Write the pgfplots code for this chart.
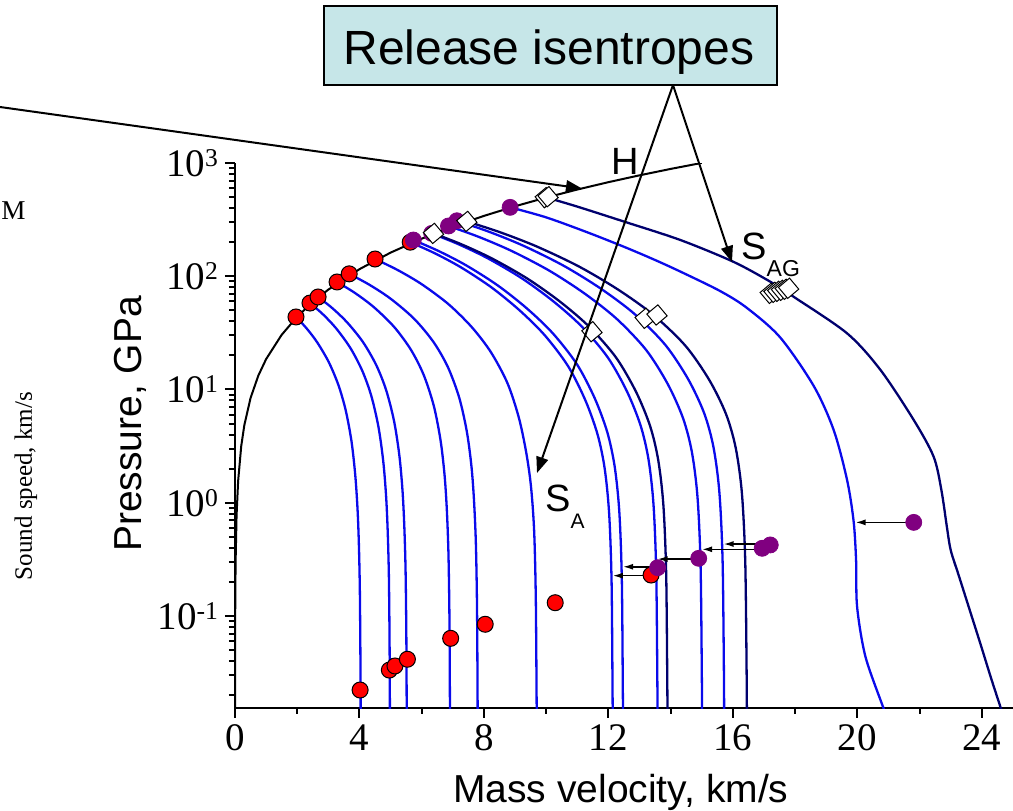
\documentclass[border=0pt]{standalone}
\usepackage{pgfplots}
\pgfplotsset{compat=1.18}
\usepackage{fontspec}
\setmainfont{Liberation Serif}
\newfontfamily\arial{Liberation Sans}
\usetikzlibrary{arrows.meta}

\definecolor{isoblue}{RGB}{10,10,235}
\definecolor{isonavy}{RGB}{0,0,110}
\definecolor{dotpurple}{RGB}{128,0,128}
\definecolor{boxcyan}{RGB}{198,230,232}

\newcommand\tsup[1]{\raisebox{5pt}{\fontsize{12.8}{13}\selectfont #1}}

\begin{document}
\begin{tikzpicture}
\useasboundingbox (-117.5pt,-51pt) rectangle (389pt,354pt);
\clip (-117.5pt,-51pt) rectangle (389pt,354pt);
\begin{axis}[
  at={(0pt,0pt)}, anchor=south west,
  scale only axis, width=389pt, height=272.5pt,
  xmin=0, xmax=25, ymode=log, ymin=0.0154, ymax=1000,
  axis lines=left, axis line style={-, line width=1.3pt},
  tick align=outside, major tick length=5pt, minor tick length=3pt,
  every tick/.style={black, line width=1pt},
  xtick={0,4,...,24}, minor x tick num=1,
  ytick={0.1,1,10,100,1000},
  yticklabels={10\tsup{-1},10\tsup{0},10\tsup{1},10\tsup{2},10\tsup{3}},
  minor ytick={0.02,0.03,0.04,0.05,0.06,0.07,0.08,0.09,0.2,0.3,0.4,0.5,0.6,0.7,0.8,0.9,2,3,4,5,6,7,8,9,20,30,40,50,60,70,80,90,200,300,400,500,600,700,800,900},
  ticklabel style={font=\fontsize{19.5}{20}\selectfont},
  /pgf/number format/assume math mode=true,
  xlabel={Mass velocity, km/s},
  ylabel={Pressure, GPa},
  label style={font=\arial\fontsize{19.5}{20}\selectfont},
  xlabel style={at={(axis description cs:0.496,-0.1725)}, anchor=base},
  ylabel style={at={(axis description cs:-0.1208,0.521)}, anchor=base},
]
% release isentropes from the red points (Hugoniot states)
\addplot[isoblue, line width=1.15pt, smooth] coordinates {(1.96,43.7)(2.289,34.96)(2.636,26.22)(3.012,17.48)(3.324,10.93)(3.557,6.555)(3.743,3.496)(3.865,1.748)(3.938,0.874)(3.980,0.437)(4.011,0.1748)(4.030,0.0437)(4.04,0.01)};
\addplot[isoblue, line width=1.15pt, smooth] coordinates {(2.41,58)(2.816,46.4)(3.245,34.8)(3.710,23.2)(4.096,14.5)(4.384,8.7)(4.612,4.64)(4.764,2.32)(4.854,1.16)(4.905,0.58)(4.944,0.232)(4.967,0.058)(4.98,0.01)};
\addplot[isoblue, line width=1.15pt, smooth] coordinates {(2.67,65.6)(3.120,52.48)(3.596,39.36)(4.112,26.24)(4.540,16.4)(4.859,9.84)(5.112,5.248)(5.281,2.624)(5.380,1.312)(5.437,0.656)(5.480,0.2624)(5.506,0.0656)(5.52,0.01)};
\addplot[isoblue, line width=1.15pt, smooth] coordinates {(3.28,89)(3.854,71.2)(4.460,53.4)(5.117,35.6)(5.661,22.25)(6.068,13.35)(6.391,7.12)(6.605,3.56)(6.732,1.78)(6.805,0.89)(6.859,0.356)(6.892,0.089)(6.91,0.01)};
\addplot[isoblue, line width=1.15pt, smooth] coordinates {(3.67,105)(4.323,84)(5.012,63)(5.760,42)(6.379,26.25)(6.842,15.75)(7.209,8.4)(7.453,4.2)(7.598,2.1)(7.680,1.05)(7.742,0.42)(7.779,0.105)(7.80,0.01)};
\addplot[isoblue, line width=1.15pt, smooth] coordinates {(4.50,142)(5.223,113.6)(5.995,85.2)(6.856,56.8)(7.610,35.5)(8.226,21.3)(8.756,11.36)(9.118,5.68)(9.352,2.84)(9.508,1.42)(9.612,0.568)(9.666,0.142)(9.695,0.0142)(9.70,0.01)};
\addplot[isoblue, line width=1.15pt, smooth] coordinates {(5.63,200)(6.411,160)(7.258,120)(8.234,80)(9.145,50)(9.959,30)(10.708,16)(11.261,8)(11.652,4)(11.880,2)(12.023,0.8)(12.101,0.2)(12.133,0.02)(12.14,0.01)};
% release isentropes from the purple points
\addplot[isoblue, line width=1.15pt, smooth] coordinates {(5.73,209)(6.539,167.2)(7.415,125.4)(8.426,83.6)(9.370,52.25)(10.212,31.35)(10.987,16.72)(11.560,8.36)(11.965,4.18)(12.200,2.09)(12.349,0.836)(12.430,0.209)(12.463,0.0209)(12.47,0.01)};
\addplot[isoblue, line width=1.15pt, smooth] coordinates {(6.32,239)(7.191,191.2)(8.135,143.4)(9.224,95.6)(10.240,59.75)(11.148,35.85)(11.983,19.12)(12.600,9.56)(13.036,4.78)(13.290,2.39)(13.449,0.956)(13.536,0.239)(13.573,0.0239)(13.58,0.01)};
\addplot[isonavy, line width=1.15pt, smooth] coordinates {(6.38,239)(7.282,191.2)(8.26,143.4)(9.388,95.6)(10.441,59.75)(11.381,35.85)(12.246,19.12)(12.885,9.56)(13.336,4.78)(13.599,2.39)(13.765,0.956)(13.855,0.239)(13.892,0.0239)(13.90,0.01)};
\addplot[isoblue, line width=1.15pt, smooth] coordinates {(6.86,278)(7.838,222.4)(8.898,166.8)(10.12,111.2)(11.261,69.5)(12.280,41.7)(13.217,22.24)(13.910,11.12)(14.399,5.56)(14.684,2.78)(14.863,1.112)(14.961,0.278)(15.002,0.0278)(15.01,0.01)};
\addplot[isoblue, line width=1.15pt, smooth] coordinates {(7.13,309)(8.161,247.2)(9.278,185.4)(10.566,123.6)(11.769,77.25)(12.842,46.35)(13.830,24.72)(14.560,12.36)(15.076,6.18)(15.376,3.09)(15.565,1.236)(15.668,0.309)(15.711,0.0309)(15.72,0.01)};
\addplot[isonavy, line width=1.15pt, smooth] coordinates {(7.45,305)(8.53,244)(9.70,183)(11.05,122)(12.31,76.25)(13.435,45.75)(14.47,24.4)(15.235,12.2)(15.775,6.1)(16.09,3.05)(16.288,1.22)(16.396,0.305)(16.441,0.0305)(16.45,0.01)};
\addplot[isoblue, line width=1.15pt, smooth] coordinates {(8.84,406)(10.0,331)(11.31,245)(12.5,182)(13.45,141)(14.31,110)(15.59,74)(16.45,52.5)(17.52,28.8)(18.60,10.7)(19.24,4.37)(19.67,1.58)(19.88,0.68)(19.96,0.30)(19.99,0.121)(20.26,0.0436)(20.85,0.015)(20.90,0.013)};
% S_AG
\addplot[isonavy, line width=1.15pt, smooth] coordinates {(10.03,494)(11.0,412)(12.5,304)(14.31,209)(16.02,134)(17.2,89.5)(17.95,65.9)(19.67,31.3)(20.74,14.9)(21.81,5.38)(22.45,2.55)(22.70,1.29)(22.88,0.60)(23.0,0.38)(23.25,0.231)(23.55,0.127)(23.96,0.056)(24.3,0.028)(24.62,0.015)(24.70,0.0126)};
% Hugoniot H
\addplot[black, line width=1pt] coordinates {(0.0005,0.0076)(0.001,0.0151)(0.002,0.0302)(0.005,0.0756)(0.01,0.151)(0.02,0.304)(0.05,0.764)(0.1,1.545)(0.2,3.159)(0.3,4.842)(0.5,8.414)(0.75,13.27)(1,18.55)(1.5,30.41)(2,44.0)(2.5,59.3)(3,76.3)(4,115.5)(5,161.7)(6,214.7)(7,274.5)(8,341.3)(9,415.0)(10,495.6)(11,583)(12,677.3)(13,778.6)(14,886.7)(15,1001.7)};
% red points
\addplot[only marks, mark=*, mark size=4pt, mark options={fill=red, draw=black, line width=0.5pt}] coordinates {(1.96,43.7)(2.41,58)(2.67,65.6)(3.28,89)(3.67,105)(4.50,142)(5.63,200)(4.02,0.0222)(4.96,0.0333)(5.14,0.0362)(5.54,0.0415)(6.93,0.0635)(8.04,0.0845)(10.29,0.131)(13.37,0.230)};
% purple points
\addplot[only marks, mark=*, mark size=4pt, dotpurple] coordinates {(5.73,209)(6.32,239)(6.86,278)(7.13,309)(8.84,406)(13.58,0.267)(14.90,0.323)(16.94,0.396)(17.20,0.424)(21.81,0.671)};
% diamonds
\addplot[only marks, mark=square*, mark size=3.6pt, mark options={fill=white, draw=black, line width=0.5pt, rotate=40}] coordinates {(6.38,239)(7.45,305)(9.97,494)(10.06,504)(11.47,32.4)(13.18,42.5)(13.56,45.5)(17.20,70.6)(17.32,72.1)(17.44,73.6)(17.56,75.1)(17.68,76.7)(17.79,78.3)};
% shifts to the isentropes
\draw[-{Latex[length=5pt,width=3pt]}, line width=0.75pt] (axis cs:21.56,0.671) -- (axis cs:19.94,0.671);
\draw[-{Latex[length=5pt,width=3pt]}, line width=0.75pt] (axis cs:16.94,0.432) -- (axis cs:15.70,0.432);
\draw[-{Latex[length=5pt,width=3pt]}, line width=0.75pt] (axis cs:16.67,0.388) -- (axis cs:15.01,0.388);
\draw[-{Latex[length=5pt,width=3pt]}, line width=0.75pt] (axis cs:14.66,0.318) -- (axis cs:13.58,0.318);
\draw[-{Latex[length=5pt,width=3pt]}, line width=0.75pt] (axis cs:13.36,0.272) -- (axis cs:12.47,0.272);
\draw[-{Latex[length=5pt,width=3pt]}, line width=0.75pt] (axis cs:13.13,0.227) -- (axis cs:12.14,0.227);
\end{axis}

\begin{scope}[x=0.5pt, y=-0.5pt, shift={(-117.5pt,354pt)}]
  \draw[line width=1pt, fill=boxcyan] (324,6) rectangle (777,85);
  \node[anchor=base, inner sep=0, font=\arial\fontsize{24}{24}\selectfont] at (549,65) {Release isentropes};
  \draw[line width=1pt, -{Triangle[length=8pt,width=6pt]}] (673,85) -- (537,473);
  \draw[line width=1pt, -{Triangle[length=8pt,width=6pt]}] (673,85) -- (732,262);
  \draw[line width=1pt, -{Triangle[length=8pt,width=6pt]}] (-10,105.6) -- (582,188.5);
  \node[anchor=base, inner sep=0, font=\arial\fontsize{19}{19}\selectfont] at (625,175) {H};
  \node[anchor=base west, inner sep=0, font=\arial\fontsize{19}{19}\selectfont] at (741,260) {S\raisebox{-8.3pt}{\fontsize{11.5}{12}\selectfont AG}};
  \node[anchor=base west, inner sep=0, font=\arial\fontsize{19}{19}\selectfont] at (545,511.7) {S\raisebox{-8.2pt}{\fontsize{10.5}{11}\selectfont A}};
  \node[anchor=base west, inner sep=0, font=\fontsize{13.6}{14}\selectfont] at (1,220) {M};
  \node[anchor=base, inner sep=0, rotate=90, font=\fontsize{12.5}{13}\selectfont] at (32,486) {Sound speed, km/s};
\end{scope}
\end{tikzpicture}
\end{document}
